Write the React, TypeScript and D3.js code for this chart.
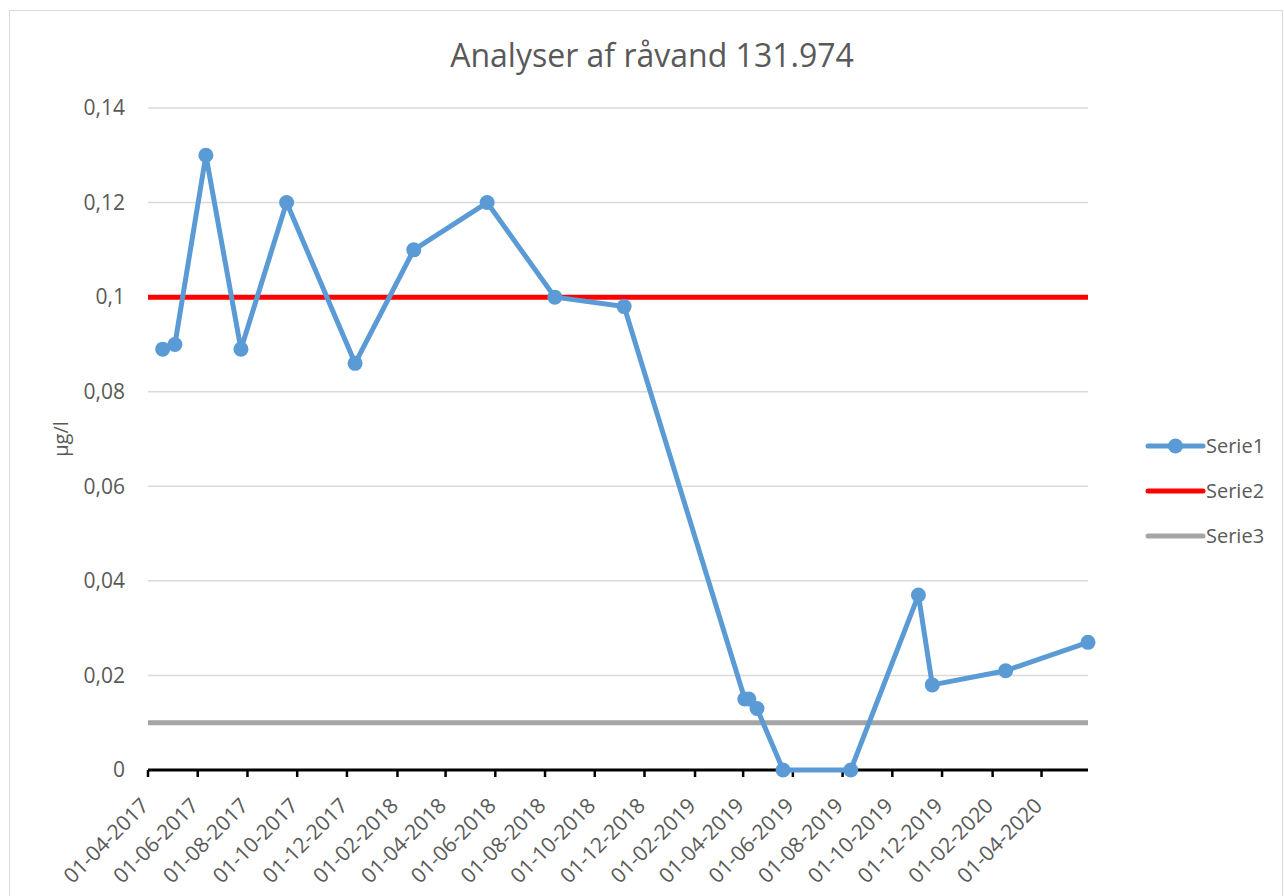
import { useEffect, useRef } from "react";
import * as d3 from "d3";

const TITLE = "Analyser af råvand 131.974";
const Y_LABEL = "µg/l";

// sample dates (dd-mm-yyyy) and measured values for Serie1
const sampleDates = [
	"19-04-2017", "04-05-2017", "11-06-2017", "24-07-2017", "18-09-2017",
	"11-12-2017", "21-02-2018", "22-05-2018", "13-08-2018", "06-11-2018",
	"03-04-2019", "08-04-2019", "18-04-2019", "20-05-2019", "11-08-2019",
	"02-11-2019", "19-11-2019", "17-02-2020", "28-05-2020",
];
const serie1Values = [
	0.089, 0.09, 0.13, 0.089, 0.12,
	0.086, 0.11, 0.12, 0.1, 0.098,
	0.015, 0.015, 0.013, 0, 0,
	0.037, 0.018, 0.021, 0.027,
];
// constant reference lines
const serie2Value = 0.1;
const serie3Value = 0.01;

const axisStart = "01-04-2017";
const axisEnd = "28-05-2020";
const xTickLabels = [
	"01-04-2017", "01-06-2017", "01-08-2017", "01-10-2017", "01-12-2017",
	"01-02-2018", "01-04-2018", "01-06-2018", "01-08-2018", "01-10-2018",
	"01-12-2018", "01-02-2019", "01-04-2019", "01-06-2019", "01-08-2019",
	"01-10-2019", "01-12-2019", "01-02-2020", "01-04-2020",
];
const yTicks = [0, 0.02, 0.04, 0.06, 0.08, 0.1, 0.12, 0.14];

const seriesNames = ["Serie1", "Serie2", "Serie3"];
const seriesColors = ["#5B9BD5", "#FF0000", "#A5A5A5"];

const FONT = "'Open Sans', sans-serif";
const TEXT_COLOR = "#595959";

export default function App() {
	const ref = useRef<SVGSVGElement>(null);

	useEffect(() => {
		const svg = d3.select(ref.current);
		svg.selectAll("*").remove();

		const W = 1284;
		const H = 896;
		const margin = { top: 108, right: 196, bottom: 126, left: 148 };
		const width = W - margin.left - margin.right;
		const height = H - margin.top - margin.bottom;

		const parse = d3.timeParse("%d-%m-%Y");
		const daFormat = d3.formatLocale({
			decimal: ",",
			thousands: ".",
			grouping: [3],
			currency: ["", " kr."],
		}).format("~g");

		// chart border
		svg.append("rect")
			.attr("x", 9.5)
			.attr("y", 10.5)
			.attr("width", 1273)
			.attr("height", 900)
			.attr("fill", "#fff")
			.attr("stroke", "#D9D9D9")
			.attr("stroke-width", 1);

		const g = svg.append("g")
			.attr("transform", `translate(${margin.left},${margin.top})`);

		const x = d3.scaleTime()
			.domain([parse(axisStart)!, parse(axisEnd)!])
			.range([0, width]);

		const y = d3.scaleLinear()
			.domain([0, 0.14])
			.range([height, 0]);

		// gridlines
		g.append("g")
			.selectAll("line")
			.data(yTicks.filter(d => d > 0))
			.enter()
			.append("line")
			.attr("x1", 0)
			.attr("x2", width)
			.attr("y1", d => y(d))
			.attr("y2", d => y(d))
			.attr("stroke", "#D9D9D9")
			.attr("stroke-width", 1.5);

		// y tick labels
		g.append("g")
			.selectAll("text")
			.data(yTicks)
			.enter()
			.append("text")
			.attr("x", -23)
			.attr("y", d => y(d))
			.attr("dy", "0.35em")
			.attr("text-anchor", "end")
			.attr("font-family", FONT)
			.attr("font-size", "21px")
			.attr("fill", TEXT_COLOR)
			.text(d => daFormat(d));

		// reference lines
		const [x0, x1] = x.range();
		g.append("line")
			.attr("x1", x0).attr("x2", x1)
			.attr("y1", y(serie3Value)).attr("y2", y(serie3Value))
			.attr("stroke", seriesColors[2])
			.attr("stroke-width", 5);

		g.append("line")
			.attr("x1", x0).attr("x2", x1)
			.attr("y1", y(serie2Value)).attr("y2", y(serie2Value))
			.attr("stroke", seriesColors[1])
			.attr("stroke-width", 5);

		// x axis
		const tickDates = xTickLabels.map(s => parse(s)!);
		const xAxis = g.append("g")
			.attr("transform", `translate(0,${height})`);

		xAxis.append("line")
			.attr("x1", 0)
			.attr("x2", width)
			.attr("stroke", "#000")
			.attr("stroke-width", 3);

		xAxis.selectAll(".tick")
			.data(tickDates)
			.enter()
			.append("line")
			.attr("class", "tick")
			.attr("x1", d => x(d))
			.attr("x2", d => x(d))
			.attr("y1", 0)
			.attr("y2", 7)
			.attr("stroke", "#000")
			.attr("stroke-width", 2.5);

		xAxis.selectAll(".tick-label")
			.data(tickDates)
			.enter()
			.append("text")
			.attr("class", "tick-label")
			.attr("transform", d => `translate(${x(d) + 2},${37}) rotate(-45)`)
			.attr("text-anchor", "end")
			.attr("font-family", FONT)
			.attr("font-size", "21px")
			.attr("fill", TEXT_COLOR)
			.text((_, i) => xTickLabels[i]);

		// Serie1 line + markers
		const points = sampleDates.map((s, i) => ({ date: parse(s)!, value: serie1Values[i] }));

		const line = d3.line<{ date: Date; value: number }>()
			.x(d => x(d.date))
			.y(d => y(d.value));

		g.append("path")
			.datum(points)
			.attr("d", line)
			.attr("fill", "none")
			.attr("stroke", seriesColors[0])
			.attr("stroke-width", 5)
			.attr("stroke-linejoin", "round")
			.attr("stroke-linecap", "round");

		g.selectAll(".marker")
			.data(points)
			.enter()
			.append("circle")
			.attr("class", "marker")
			.attr("cx", d => x(d.date))
			.attr("cy", d => y(d.value))
			.attr("r", 7.5)
			.attr("fill", seriesColors[0]);

		// title
		svg.append("text")
			.attr("x", 652)
			.attr("y", 67)
			.attr("text-anchor", "middle")
			.attr("font-family", FONT)
			.attr("font-size", "32px")
			.attr("fill", TEXT_COLOR)
			.text(TITLE);

		// y axis label
		svg.append("text")
			.attr("transform", `translate(68,${margin.top + height / 2}) rotate(-90)`)
			.attr("text-anchor", "middle")
			.attr("font-family", FONT)
			.attr("font-size", "20px")
			.attr("fill", TEXT_COLOR)
			.text(Y_LABEL);

		// legend
		const legend = svg.append("g")
			.attr("transform", "translate(1148,446)");

		seriesNames.forEach((name, i) => {
			const row = legend.append("g")
				.attr("transform", `translate(0,${i * 45})`);

			row.append("line")
				.attr("x1", 0)
				.attr("x2", 55)
				.attr("stroke", seriesColors[i])
				.attr("stroke-width", 5)
				.attr("stroke-linecap", "round");

			if (i === 0) {
				row.append("circle")
					.attr("cx", 27.5)
					.attr("r", 7.5)
					.attr("fill", seriesColors[i]);
			}

			row.append("text")
				.attr("x", 58)
				.attr("dy", "0.35em")
				.attr("font-family", FONT)
				.attr("font-size", "20px")
				.attr("fill", TEXT_COLOR)
				.text(name);
		});
	}, []);

	return (
		<svg
			ref={ref}
			width={1284}
			height={896}
			style={{ position: "absolute", left: 0, top: 0 }}
		/>
	);
}
